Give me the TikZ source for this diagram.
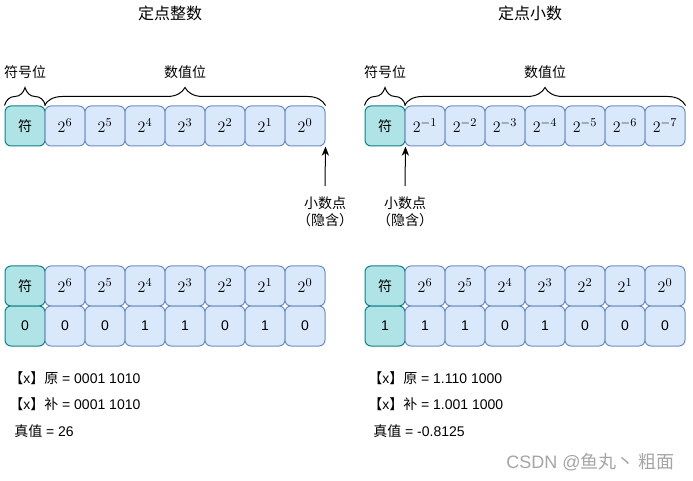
\documentclass[tikz,border=0pt]{standalone}
\usepackage[no-math]{fontspec}
\setmainfont{Liberation Sans}
\newfontfamily\cjk{Noto Sans CJK SC}
\usepackage{amsmath}
\usetikzlibrary{arrows.meta, positioning, decorations.pathreplacing}

\definecolor{sgnfill}{RGB}{176,227,230}
\definecolor{sgnline}{RGB}{14,128,136}
\definecolor{valfill}{RGB}{218,232,252}
\definecolor{valline}{RGB}{108,142,191}
\definecolor{wmgray}{RGB}{165,165,165}

\begin{document}
\begin{tikzpicture}[x=0.75pt,y=0.75pt,yscale=-1,xscale=1,
  cell/.style={rounded corners=4.5pt, minimum width=30pt, minimum height=30pt, inner sep=0pt, line width=0.75pt},
  sgn/.style={cell, draw=sgnline, fill=sgnfill, font=\cjk\fontsize{10.5}{12}\selectfont},
  val/.style={cell, draw=valline, fill=valfill, font=\fontsize{13}{15}\selectfont},
  sgnbit/.style={cell, draw=sgnline, fill=sgnfill, font=\fontsize{10.5}{12}\selectfont},
  bit/.style={cell, draw=valline, fill=valfill, font=\fontsize{10.5}{12}\selectfont},
  brc/.style={decorate, decoration={brace, amplitude=13.5pt, aspect=0.5}, line width=0.75pt},
  lbl/.style={inner sep=0.75pt, font=\cjk\fontsize{10.5}{13}\selectfont},
  ttl/.style={inner sep=0.75pt, font=\cjk\fontsize{12}{14}\selectfont},
  txt/.style={anchor=west, inner sep=0.75pt, font=\fontsize{10.5}{12}\selectfont},
  ptr/.style={-{Stealth[length=7pt, width=5.5pt]}, line width=0.75pt}]
\useasboundingbox (0,0) rectangle (693,481);

% Titles
\node [ttl] (t1) at (170,13) {定点整数};
\node [ttl] (t2) at (530,13) {定点小数};

% Fixed-point integer, top row
\node [sgn] (ls) at (25,126) {符};
\node [val] (lv6) at (65,126) {$2^{6}$};
\node [val] (lv5) at (105,126) {$2^{5}$};
\node [val] (lv4) at (145,126) {$2^{4}$};
\node [val] (lv3) at (185,126) {$2^{3}$};
\node [val] (lv2) at (225,126) {$2^{2}$};
\node [val] (lv1) at (265,126) {$2^{1}$};
\node [val] (lv0) at (305,126) {$2^{0}$};

% Fixed-point fraction, top row
\node [sgn] (rs) at (385,126) {符};
\node [val] (rv1) at (425,126) {$2^{-1}$};
\node [val] (rv2) at (465,126) {$2^{-2}$};
\node [val] (rv3) at (505,126) {$2^{-3}$};
\node [val] (rv4) at (545,126) {$2^{-4}$};
\node [val] (rv5) at (585,126) {$2^{-5}$};
\node [val] (rv6) at (625,126) {$2^{-6}$};
\node [val] (rv7) at (665,126) {$2^{-7}$};

% Braces and their labels
\draw [brc] (ls.north west) -- (ls.north east);
\draw [brc] (lv6.north west) -- (lv0.north east);
\draw [brc] (rs.north west) -- (rs.north east);
\draw [brc] (rv1.north west) -- (rv7.north east);
\node [lbl] (lsg) at (25,72) {符号位};
\node [lbl] (lvl) at (185,72) {数值位};
\node [lbl] (rsg) at (385,72) {符号位};
\node [lbl] (rvl) at (545,72) {数值位};

% Implied binary point
\node [lbl, align=center] (dot1) at (325,212) {小数点\\（隐含）};
\node [lbl, align=center] (dot2) at (405,212) {小数点\\（隐含）};
\coordinate (a1) at (325,186);
\coordinate (a2) at (405,186);
\draw [ptr] (a1) -- (lv0.south east);
\draw [ptr] (a2) -- (rs.south east);

% Integer example
\node [sgn] (lbs) at (25,286) {符};
\node [val] (lb6) at (65,286) {$2^{6}$};
\node [val] (lb5) at (105,286) {$2^{5}$};
\node [val] (lb4) at (145,286) {$2^{4}$};
\node [val] (lb3) at (185,286) {$2^{3}$};
\node [val] (lb2) at (225,286) {$2^{2}$};
\node [val] (lb1) at (265,286) {$2^{1}$};
\node [val] (lb0) at (305,286) {$2^{0}$};
\node [sgnbit] (lds) at (25,326) {0};
\node [bit] (ld6) at (65,326) {0};
\node [bit] (ld5) at (105,326) {0};
\node [bit] (ld4) at (145,326) {1};
\node [bit] (ld3) at (185,326) {1};
\node [bit] (ld2) at (225,326) {0};
\node [bit] (ld1) at (265,326) {1};
\node [bit] (ld0) at (305,326) {0};

% Fraction example
\node [sgn] (rbs) at (385,286) {符};
\node [val] (rb6) at (425,286) {$2^{6}$};
\node [val] (rb5) at (465,286) {$2^{5}$};
\node [val] (rb4) at (505,286) {$2^{4}$};
\node [val] (rb3) at (545,286) {$2^{3}$};
\node [val] (rb2) at (585,286) {$2^{2}$};
\node [val] (rb1) at (625,286) {$2^{1}$};
\node [val] (rb0) at (665,286) {$2^{0}$};
\node [sgnbit] (rds) at (385,326) {1};
\node [bit] (rd6) at (425,326) {1};
\node [bit] (rd5) at (465,326) {1};
\node [bit] (rd4) at (505,326) {0};
\node [bit] (rd3) at (545,326) {1};
\node [bit] (rd2) at (585,326) {0};
\node [bit] (rd1) at (625,326) {0};
\node [bit] (rd0) at (665,326) {0};

% Codes and values
\node [txt] (lorig) at (8,378) {{\cjk 【}x{\cjk 】原} = 0001 1010};
\node [txt] (lcomp) at (8,404) {{\cjk 【}x{\cjk 】补} = 0001 1010};
\node [txt] (ltrue) at (13,431) {{\cjk 真值} = 26};
\node [txt] (rorig) at (367,378) {{\cjk 【}x{\cjk 】原} = 1.110 1000};
\node [txt] (rcomp) at (367,404) {{\cjk 【}x{\cjk 】补} = 1.001 1000};
\node [txt] (rtrue) at (372,431) {{\cjk 真值} = -0.8125};

% Watermark
\node [txt, text=wmgray, font=\fontsize{13.5}{15}\selectfont] (wm) at (505,462) {CSDN @{\cjk 鱼丸丶 粗面}};

\end{tikzpicture}
\end{document}
